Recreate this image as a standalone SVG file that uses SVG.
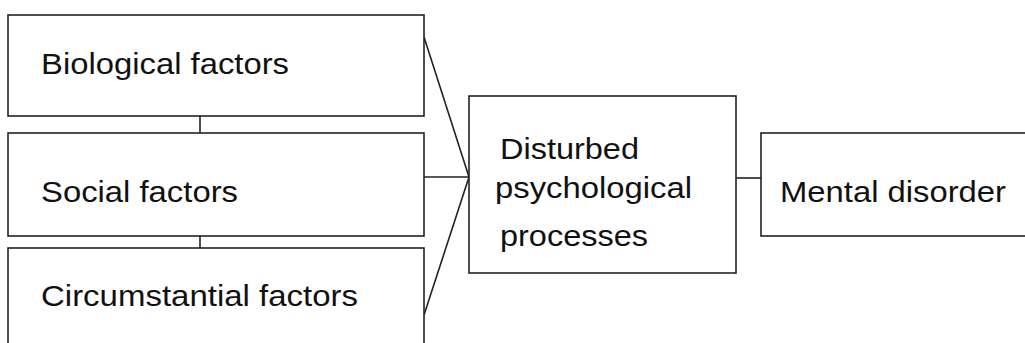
<svg xmlns="http://www.w3.org/2000/svg" width="1025" height="343" viewBox="0 0 1025 343">
<style>
.box{fill:#fff;stroke:#222;stroke-width:1.6}
.ln{fill:none;stroke:#222;stroke-width:1.6}
text{font-family:"Liberation Sans",Arial,sans-serif;font-size:29px;fill:#111}
</style>
<rect width="1025" height="343" fill="#fff"/>
<g id="connectors">
<line class="ln" x1="200" y1="116" x2="200" y2="133"/>
<line class="ln" x1="200" y1="236" x2="200" y2="248"/>
<polyline class="ln" points="424,37 469,177 424,315"/>
<line class="ln" x1="424" y1="177" x2="469" y2="177"/>
<line class="ln" x1="736" y1="178" x2="761" y2="178"/>
</g>
<g id="biological">
<rect class="box" x="8" y="15" width="416" height="101"/>
<text x="41" y="74" textLength="248" lengthAdjust="spacingAndGlyphs">Biological factors</text>
</g>
<g id="social">
<rect class="box" x="8" y="133" width="416" height="103"/>
<text x="41" y="202" textLength="197" lengthAdjust="spacingAndGlyphs">Social factors</text>
</g>
<g id="circumstantial">
<rect class="box" x="8" y="248" width="416" height="110"/>
<text x="41" y="306" textLength="317" lengthAdjust="spacingAndGlyphs">Circumstantial factors</text>
</g>
<g id="disturbed">
<rect class="box" x="469" y="96" width="267" height="177"/>
<text x="500" y="159" textLength="139" lengthAdjust="spacingAndGlyphs">Disturbed</text>
<text x="495" y="198" textLength="197" lengthAdjust="spacingAndGlyphs">psychological</text>
<text x="500" y="246" textLength="148" lengthAdjust="spacingAndGlyphs">processes</text>
</g>
<g id="mental">
<rect class="box" x="761" y="133" width="280" height="103"/>
<text x="780" y="202" textLength="226" lengthAdjust="spacingAndGlyphs">Mental disorder</text>
</g>
</svg>
